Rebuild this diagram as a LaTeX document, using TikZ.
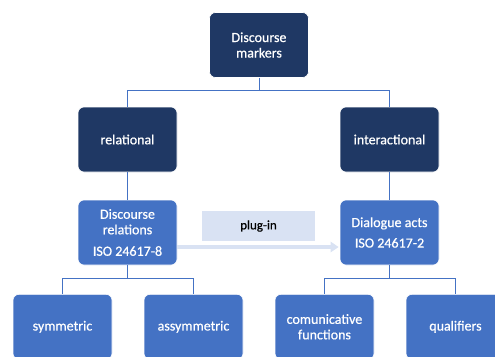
\documentclass[tikz,border=0pt]{standalone}
\usepackage{fontspec}
\setmainfont{Carlito}
\newfontfamily\boxfont[FakeBold=0.6]{Carlito}
\usetikzlibrary{arrows.meta}
\definecolor{navy}{HTML}{1F3864}
\definecolor{mblue}{HTML}{4472C4}
\definecolor{lblue}{HTML}{D9E2F3}
\begin{document}
\begin{tikzpicture}[x=1pt,y=-1pt,
  box/.style={rounded corners=6pt,draw=white,line width=0.6pt,minimum width=99pt,minimum height=65pt,
    align=center,text=white,font=\boxfont\fontsize{14}{15.5}\selectfont,inner sep=2pt},
  dark/.style={box,fill=navy},
  med/.style={box,fill=mblue},
  conn/.style={draw=mblue,line width=0.9pt}]
\useasboundingbox (0,0) rectangle (495,356);
\clip (0,0) rectangle (495,356);
\node[dark] (dm) at (259,45) {Discourse\\markers};
\node[dark] (rel) at (127.5,139.5) {relational};
\node[dark] (int) at (389.5,139.5) {interactional};
\node[med] (dr) at (127.5,232.5) {Discourse\\relations\\[6pt]ISO 24617-8};
\node[med] (da) at (389.5,232.5) {Dialogue acts\\[5pt]ISO 24617-2};
\node[med,anchor=north] (sym) at (62.5,294) {symmetric};
\node[med,anchor=north] (asym) at (193.5,294) {assymmetric};
\node[med,anchor=north] (com) at (324.5,294) {comunicative\\functions};
\node[med,anchor=north] (qual) at (455.5,294) {qualifiers};
\node[fill=lblue,minimum width=113pt,minimum height=30pt,font=\boxfont\fontsize{13}{15}\selectfont] (plug) at (258.5,226) {plug-in};
\draw[conn] (dm.south) -- ++(0,13) -| (rel.north);
\draw[conn] (dm.south) -- ++(0,13) -| (int.north);
\draw[conn] (rel.south) -- (dr.north);
\draw[conn] (int.south) -- (da.north);
\draw[conn] (dr.south) -- ++(0,13) -| (sym.north);
\draw[conn] (dr.south) -- ++(0,13) -| (asym.north);
\draw[conn] (da.south) -- ++(0,13) -| (com.north);
\draw[conn] (da.south) -- ++(0,13) -| (qual.north);
\coordinate (a1) at ([yshift=-14.5pt]dr.east);
\coordinate (a2) at ([yshift=-14.5pt,xshift=-1pt]da.west);
\draw[draw=lblue,line width=3.5pt,-{Triangle[length=8pt,width=10pt]}] (a1) -- (a2);
\end{tikzpicture}
\end{document}
